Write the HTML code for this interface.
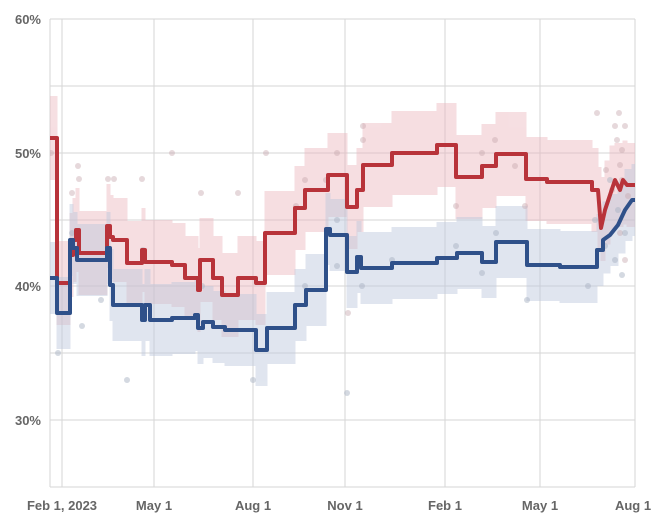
<!DOCTYPE html>
<html><head><meta charset="utf-8"><style>
body{margin:0;background:#fff;}
svg{display:block;font-family:"Liberation Sans",Arial,sans-serif;}
.lab{font-size:13px;font-weight:bold;fill:#666;}
</style></head><body>
<svg id="s" width="659" height="520" viewBox="0 0 659 520">
<defs><clipPath id="c"><rect x="50" y="19" width="585" height="468"/></clipPath></defs>
<g stroke="#d6d6d6" stroke-width="1">
<line x1="50" y1="19" x2="635" y2="19"/><line x1="50" y1="86" x2="635" y2="86"/>
<line x1="50" y1="153" x2="635" y2="153"/><line x1="50" y1="220" x2="635" y2="220"/>
<line x1="50" y1="286" x2="635" y2="286"/><line x1="50" y1="353" x2="635" y2="353"/>
<line x1="50" y1="420" x2="635" y2="420"/><line x1="50" y1="487" x2="635" y2="487"/>
<line x1="50" y1="19" x2="50" y2="487"/>
<line x1="62" y1="19" x2="62" y2="487"/><line x1="154" y1="19" x2="154" y2="487"/>
<line x1="253" y1="19" x2="253" y2="487"/><line x1="345" y1="19" x2="345" y2="487"/>
<line x1="445" y1="19" x2="445" y2="487"/><line x1="540" y1="19" x2="540" y2="487"/>
<line x1="635" y1="19" x2="635" y2="487"/>
</g>
<g clip-path="url(#c)">
<g id="rband" opacity="0.42" fill="#eab3ba"></g>
<g id="bband" opacity="0.45" fill="#bcc7dc"></g>
<g fill="#c7a8b0" fill-opacity="0.45">
<circle cx="51" cy="153" r="3"/><circle cx="78" cy="166" r="3"/><circle cx="79" cy="179" r="3"/><circle cx="72" cy="193" r="3"/><circle cx="108" cy="179" r="3"/><circle cx="114" cy="179" r="3"/><circle cx="142" cy="179" r="3"/><circle cx="172" cy="153" r="3"/><circle cx="201" cy="193" r="3"/><circle cx="238" cy="193" r="3"/><circle cx="266" cy="153" r="3"/><circle cx="296" cy="206" r="3"/><circle cx="305" cy="180" r="3"/><circle cx="326" cy="180" r="3"/><circle cx="337" cy="153" r="3"/><circle cx="363" cy="126" r="3"/><circle cx="363" cy="140" r="3"/><circle cx="456" cy="206" r="3"/><circle cx="482" cy="153" r="3"/><circle cx="495" cy="140" r="3"/><circle cx="515" cy="166" r="3"/><circle cx="525" cy="206" r="3"/><circle cx="597" cy="113" r="3"/><circle cx="619" cy="113" r="3"/><circle cx="615" cy="126" r="3"/><circle cx="625" cy="126" r="3"/><circle cx="617" cy="140" r="3"/><circle cx="622" cy="150" r="3"/><circle cx="620" cy="165" r="3"/><circle cx="606" cy="170" r="3"/><circle cx="622" cy="180" r="3"/><circle cx="612" cy="190" r="3"/><circle cx="628" cy="196" r="3"/><circle cx="620" cy="233" r="3"/><circle cx="625" cy="260" r="3"/><circle cx="348" cy="313" r="3"/></g>
<g fill="#a9b3c4" fill-opacity="0.5">
<circle cx="72" cy="233" r="3"/><circle cx="58" cy="353" r="3"/><circle cx="82" cy="326" r="3"/><circle cx="101" cy="300" r="3"/><circle cx="127" cy="380" r="3"/><circle cx="143" cy="250" r="3"/><circle cx="202" cy="286" r="3"/><circle cx="253" cy="380" r="3"/><circle cx="337" cy="220" r="3"/><circle cx="337" cy="266" r="3"/><circle cx="305" cy="286" r="3"/><circle cx="347" cy="393" r="3"/><circle cx="362" cy="286" r="3"/><circle cx="392" cy="260" r="3"/><circle cx="456" cy="246" r="3"/><circle cx="482" cy="273" r="3"/><circle cx="496" cy="233" r="3"/><circle cx="527" cy="300" r="3"/><circle cx="595" cy="220" r="3"/><circle cx="605" cy="246" r="3"/><circle cx="610" cy="180" r="3"/><circle cx="618" cy="210" r="3"/><circle cx="625" cy="233" r="3"/><circle cx="615" cy="260" r="3"/><circle cx="622" cy="275" r="3"/><circle cx="588" cy="286" r="3"/></g>
<polyline id="rl" fill="none" stroke="#b8333a" stroke-width="4" stroke-linejoin="round" points="50,138 57,138 57,283 70,283 70,255 73,255 73,240 76,240 76,230 79,230 79,253 107,253 107,226 110,226 110,237 113,237 113,240 127,240 127,263 142,263 142,250 145,250 145,262 172,262 172,265 185,265 185,278 198,278 198,290 200,290 200,260 213,260 213,278 222,278 222,295 238,295 238,278 256,278 256,283 265,283 265,233 295,233 295,208 305,208 305,190 328,190 328,175 347,175 347,207 357,207 357,190 363,190 363,165 392,165 392,153 437,153 437,145 456,145 456,177 482,177 482,166 496,166 496,154 526,154 526,179 547,179 547,182 592,182 592,190 598,190 601,228 605,210 610,195 615,180 620,190 623,180 627,185 635,185"/>
<polyline id="bl" fill="none" stroke="#2f5089" stroke-width="4" stroke-linejoin="round" points="50,278 57,278 57,313 70,313 70,240 73,240 73,248 77,248 77,260 107,260 107,248 110,248 110,285 113,285 113,305 142,305 142,320 145,320 145,305 150,305 150,320 172,320 172,318 195,318 195,315 198,315 198,328 203,328 203,322 213,322 213,327 225,327 225,330 256,330 256,350 267,350 267,328 295,328 295,305 306,305 306,290 326,290 326,229 330,229 330,235 347,235 347,272 357,272 357,257 361,257 361,268 392,268 392,263 437,263 437,258 457,258 457,253 482,253 482,262 496,262 496,242 527,242 527,265 560,265 560,267 597,267 597,250 603,250 603,240 610,235 618,225 625,210 632,200 635,200"/>
</g>
<g class="lab" text-anchor="end">
<text x="41" y="24">60%</text><text x="41" y="158">50%</text><text x="41" y="291">40%</text><text x="41" y="425">30%</text>
</g>
<g class="lab" text-anchor="middle">
<text x="62" y="510">Feb 1, 2023</text><text x="154" y="510">May 1</text><text x="253" y="510">Aug 1</text><text x="345" y="510">Nov 1</text><text x="445" y="510">Feb 1</text><text x="540" y="510">May 1</text><text x="633" y="510">Aug 1</text>
</g>
</svg>
<script>
function band(lineId,gId,h){
 var pts=document.getElementById(lineId).getAttribute('points').trim().split(/\s+/).map(function(p){return p.split(',').map(Number);});
 var g=document.getElementById(gId),ns='http://www.w3.org/2000/svg';
 for(var i=0;i<pts.length-1;i++){
  var a=pts[i],b=pts[i+1];
  if(b[0]-a[0]<=0) continue;
  var y=(a[1]+b[1])/2;
  var r=document.createElementNS(ns,'rect');
  r.setAttribute('x',a[0]-0.5);r.setAttribute('width',b[0]-a[0]+1);
  r.setAttribute('y',y-h);r.setAttribute('height',2*h);
  g.appendChild(r);
 }
}
band('rl','rband',42);
band('bl','bband',36);
</script>
</body></html>
